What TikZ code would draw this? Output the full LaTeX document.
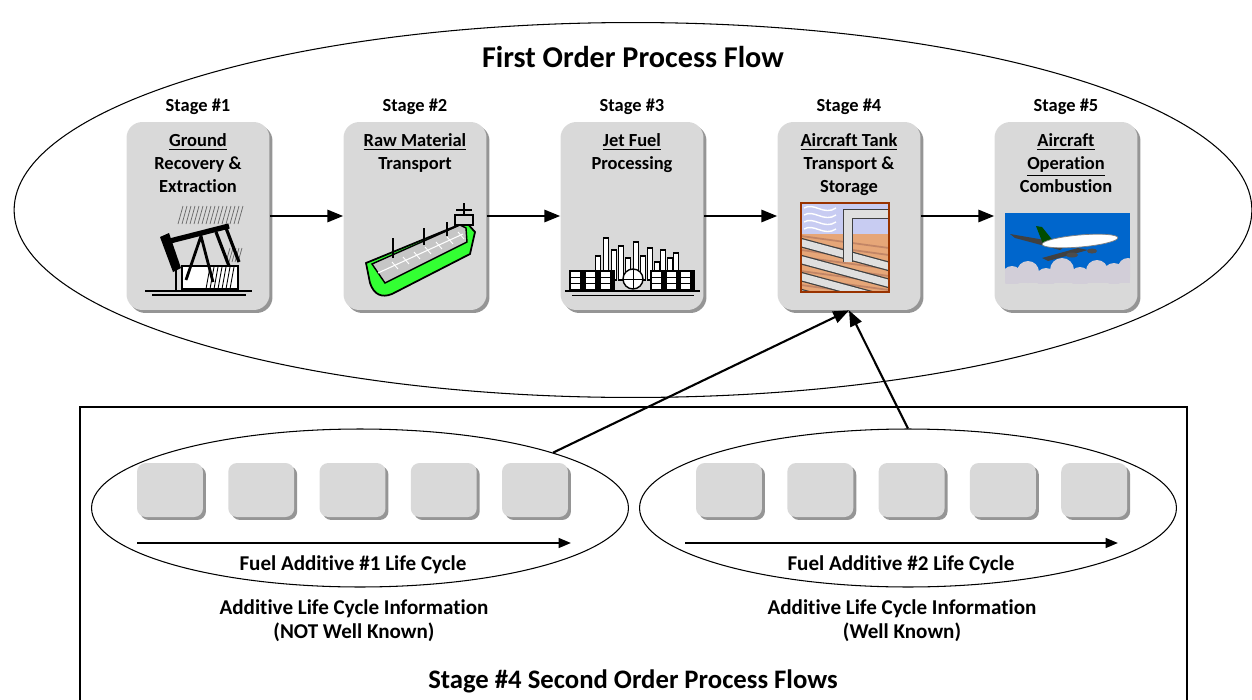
\documentclass[tikz,border=0pt]{standalone}
\usepackage{fontspec}
\setmainfont{Carlito}[Ligatures = NoCommon]
\usetikzlibrary{positioning,arrows.meta,shadows,shapes.geometric}

\definecolor{boxgray}{HTML}{D9D9D9}
\definecolor{shadegray}{HTML}{8A8A8A}
\definecolor{hullgreen}{HTML}{33FF33}
\definecolor{pipebrown}{HTML}{993300}
\definecolor{sandtan}{HTML}{E6A678}
\definecolor{skylav}{HTML}{C8CCF2}
\definecolor{skyblue}{HTML}{0066CC}
\definecolor{cloudgray}{HTML}{D2CED8}

\tikzset{stagebox/.style = {shape = rectangle,
                            rounded corners = 9pt,
                            fill = boxgray,
                            minimum width = 2.86cm,
                            minimum height = 3.76cm,
                            drop shadow = {shadow xshift = 1.7pt,
                                           shadow yshift = -1.7pt,
                                           fill = shadegray,
                                           opacity = 0.9}},
         subbox/.style = {shape = rectangle,
                          rounded corners = 5pt,
                          fill = boxgray,
                          minimum width = 1.32cm,
                          minimum height = 1.08cm,
                          drop shadow = {shadow xshift = 1.7pt,
                                         shadow yshift = -1.7pt,
                                         fill = shadegray,
                                         opacity = 0.9}},
         lcellipse/.style = {shape = ellipse,
                             draw,
                             line width = 0.6pt,
                             minimum width = 10.74cm,
                             minimum height = 3.16cm}}

\begin{document}
\begin{tikzpicture}[x = 0.02cm, y = -0.02cm,
                    boxtext/.style = {align = center,
                                      inner sep = 0pt,
                                      font = \fontsize{10.5}{13}\selectfont\bfseries},
                    lowtext/.style = {align = center,
                                      inner sep = 0pt,
                                      font = \fontsize{12}{13.6}\selectfont\bfseries},
                    stagelabel/.style = {inner sep = 0pt,
                                         font = \fontsize{10.5}{12}\selectfont\bfseries},
                    bigtext/.style = {inner sep = 0pt,
                                      font = \fontsize{15.2}{18}\selectfont\bfseries},
                    flow/.style = {line width = 1.2pt,
                                   -{Triangle[length = 9pt, width = 7pt]}},
                    lifeline/.style = {line width = 1.2pt,
                                       -{Triangle[length = 7pt, width = 5.5pt]}}]
	\useasboundingbox (0,0) rectangle (1252,700);
	\clip (0,0) rectangle (1252,700);

	% first order process flow
	\node[shape = ellipse, draw, line width = 0.6pt,
	      minimum width = 24.76cm, minimum height = 7.5cm] (first) at (633,210) {};
	\node[bigtext, font = \fontsize{17.2}{20}\selectfont\bfseries] (firsttitle) at (633,57) {First Order Process Flow};

	\node[stagebox] (st1) at (198,216) {};
	\node[stagebox] (st2) at (415,216) {};
	\node[stagebox] (st3) at (632,216) {};
	\node[stagebox] (st4) at (849,216) {};
	\node[stagebox] (st5) at (1066,216) {};

	\node[stagelabel, above = 0.13cm of st1] (lb1) {Stage \#1};
	\node[stagelabel, above = 0.13cm of st2] (lb2) {Stage \#2};
	\node[stagelabel, above = 0.13cm of st3] (lb3) {Stage \#3};
	\node[stagelabel, above = 0.13cm of st4] (lb4) {Stage \#4};
	\node[stagelabel, above = 0.13cm of st5] (lb5) {Stage \#5};

	\node[boxtext, below = 0.24cm of st1.north] (tx1) {\underline{Ground}\\Recovery \&\\Extraction};
	\node[boxtext, below = 0.24cm of st2.north] (tx2) {\underline{Raw Material}\\Transport};
	\node[boxtext, below = 0.24cm of st3.north] (tx3) {\underline{Jet Fuel}\\Processing};
	\node[boxtext, below = 0.24cm of st4.north] (tx4) {\underline{Aircraft Tank}\\Transport \&\\Storage};
	\node[boxtext, below = 0.24cm of st5.north] (tx5) {\underline{Aircraft}\\\underline{Operation}\\Combustion};

	\path (st1) edge[flow] (st2);
	\path (st2) edge[flow] (st3);
	\path (st3) edge[flow] (st4);
	\path (st4) edge[flow] (st5);

	% stage 1: pump jack
	\foreach \k in {0,...,15}
		\draw[line width = 0.4pt, black!60] (178+4*\k,224) -- ++(5,-18);
	\foreach \k in {0,...,4}
		\draw[line width = 0.4pt, black!60] (226+3*\k,262) -- ++(4,-14);
	\draw[fill = white, line width = 1pt] (182,266) rectangle (238,289);
	\foreach \k in {0,...,6}
		\draw[line width = 0.5pt] (206+4*\k,289) -- ++(4,-22);
	\draw[line width = 1.6pt] (186,280) -- (201,236) -- (213,282);
	\draw[line width = 1.8pt] (216,232) -- (229,266);
	\draw[line width = 1.8pt] (226,228) -- (239,262);
	\draw[line width = 3pt] (166,242) -- (229,226);
	\fill (160,237) -- (169,233) -- (181,268) -- (173,272) -- cycle;
	\draw[line width = 1pt] (176,268) -- (176,292);
	\draw[line width = 1.2pt] (145,291) -- (252,291);
	\draw[line width = 0.6pt] (152,295) -- (246,295);

	% stage 2: tanker
	\draw[fill = hullgreen, line width = 1pt] (366,263) -- (370,283)
		.. controls (374,295) and (382,298) .. (392,294) -- (470,254) -- (475,232) -- (466,222) -- cycle;
	\draw[fill = gray!45, line width = 0.8pt] (372,264) -- (385,283) -- (467,242) -- (466,228) -- (460,225) -- cycle;
	\draw[white, line width = 0.6pt] (378,273) -- (463,234);
	\foreach \k in {0,...,6}
		\draw[white, line width = 0.5pt] (392+11*\k,262-5*\k) -- ++(6,7);
	\draw[line width = 1pt] (393,258) -- (393,238);
	\draw[line width = 1pt] (424,245) -- (424,228);
	\draw[line width = 1pt] (447,236) -- (447,222);
	\draw[fill = gray!30, line width = 0.8pt] (455,215) rectangle (473,225);
	\draw[line width = 1.5pt] (464,215) -- (464,203);
	\draw[line width = 1pt] (456,210) -- (472,210);

	% stage 3: refinery
	\foreach \x/\t in {598/256, 606/238, 614/250, 621/246, 628/258, 636/242,
	                   643/256, 650/248, 657/262, 663/250, 670/258, 676/253}
		\draw[fill = white, line width = 0.6pt] (\x-2.5,\t) rectangle (\x+2.5,280);
	\foreach \x in {577, 592, 607, 658, 673, 687}
	{
		\draw[fill = white, line width = 0.7pt] (\x-7,271) rectangle (\x+7,290);
		\draw[line width = 0.4pt] (\x-7,277) -- (\x+7,277);
		\draw[line width = 0.4pt] (\x-7,283) -- (\x+7,283);
		\fill (\x+3,271) rectangle (\x+7,290);
	}
	\draw[fill = white, line width = 0.8pt] (633,279) circle (0.2cm);
	\draw[line width = 0.5pt] (624,279) -- (642,279);
	\draw[line width = 0.5pt] (633,270) -- (633,288);
	\draw[line width = 0.8pt] (565,291) -- (700,291);
	\draw[line width = 0.5pt] (572,295) -- (694,295);

	% stage 4: pipeline
	\begin{scope}
		\clip (801,203) rectangle (889,292);
		\fill[sandtan] (801,203) rectangle (889,292);
		\fill[skylav] (801,203) rectangle (889,234);
		\foreach \k in {0,...,3}
			\draw[white, line width = 0.8pt] (804,208+7*\k) .. controls (814,202+7*\k) and (824,216+7*\k) .. (836,208+7*\k);
		\foreach \k in {0,...,9}
			\draw[pipebrown!60, line width = 1pt] (801,236+7*\k) -- (889,248+7*\k);
		\foreach \k in {0,...,3}
			\draw[draw = gray!50!black, double = gray!25, double distance = 4pt, line width = 0.7pt]
				(795,241+17*\k) -- (895,268+17*\k);
		\draw[draw = gray!50!black, double = gray!25, double distance = 4pt, line width = 0.7pt]
			(848,262) -- (848,214) -- (895,214);
	\end{scope}
	\draw[pipebrown, line width = 1.5pt] (801,203) rectangle (889,292);

	% stage 5: aircraft
	\begin{scope}
		\clip (1005,213) rectangle (1130,283);
		\fill[skyblue] (1005,213) rectangle (1130,283);
		\foreach \x/\y/\r in {1012/276/0.2, 1028/272/0.22, 1046/278/0.2, 1062/270/0.24,
		                      1080/277/0.2, 1097/271/0.22, 1114/274/0.22, 1128/268/0.2}
			\fill[cloudgray] (\x,\y) circle (\r cm);
		\fill[cloudgray] (1005,276) rectangle (1130,283);
		\fill[black!75] (1068,244) -- (1010,234) -- (1015,238) -- (1060,250) -- cycle;
		\fill[black!75] (1078,248) -- (1042,258) -- (1048,261) -- (1088,250) -- cycle;
		\fill[green!30!black] (1043,244) -- (1036,226) -- (1042,227) -- (1054,242) -- cycle;
		\fill[white, draw = gray, rotate around = {5:(1080,241)}]
			(1080,241) ellipse [x radius = 0.76cm, y radius = 0.12cm];
		\fill[black!70] (1072,255) ellipse [x radius = 0.12cm, y radius = 0.05cm];
		\fill[black!70] (1092,251) ellipse [x radius = 0.1cm, y radius = 0.05cm];
	\end{scope}

	% second order process flows
	\draw[line width = 0.6pt] (80,407) rectangle (1187,710);
	\node[lcellipse] (lc1) at (360,508) {};
	\node[lcellipse] (lc2) at (908,508) {};
	\foreach \i in {0,...,4}
	{
		\node[subbox] (ab\i) at (170+91.25*\i,490) {};
		\node[subbox] (bb\i) at (729+91.3*\i,490) {};
	}
	\coordinate (c1s) at (137,543);
	\coordinate (c1e) at (571,543);
	\coordinate (c2s) at (685,543);
	\coordinate (c2e) at (1118,543);
	\draw[lifeline] (c1s) -- (c1e);
	\draw[lifeline] (c2s) -- (c2e);

	\node[lowtext] (lcname1) at (353,565) {Fuel Additive \#1 Life Cycle};
	\node[lowtext] (lcname2) at (901,565) {Fuel Additive \#2 Life Cycle};
	\node[lowtext] (info1) at (354,621) {Additive Life Cycle Information\\(NOT Well Known)};
	\node[lowtext] (info2) at (902,621) {Additive Life Cycle Information\\(Well Known)};
	\node[bigtext] (secondtitle) at (633,681) {Stage \#4 Second Order Process Flows};

	\draw[flow] (lc1.16) -- (st4.south);
	\draw[flow] (lc2.north) -- (st4.south);
\end{tikzpicture}
\end{document}
